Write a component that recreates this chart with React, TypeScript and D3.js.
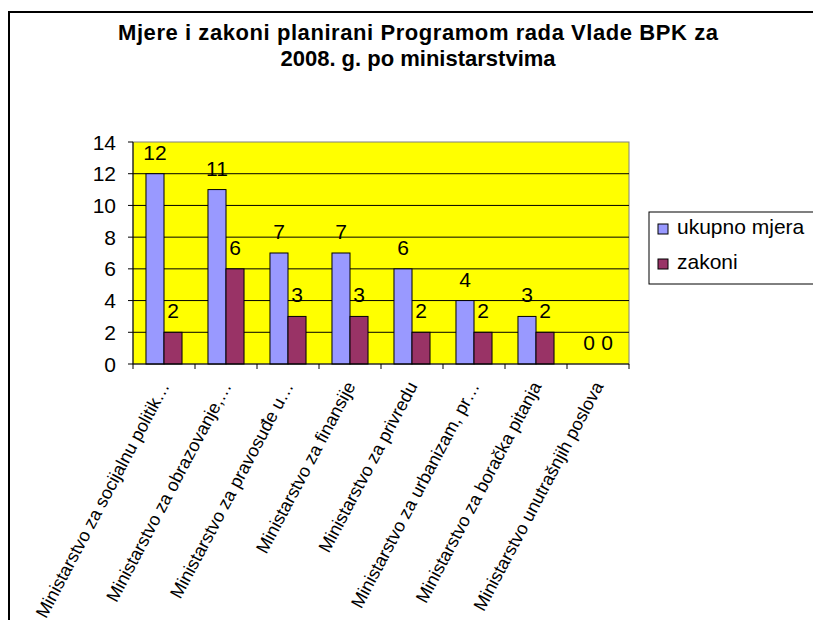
import React from "react";
import * as d3 from "d3";

const categories = [
  "Ministarstvo za socijalnu politik…",
  "Ministarstvo za obrazovanje,…",
  "Ministarstvo za pravosuđe u…",
  "Ministarstvo za finansije",
  "Ministarstvo za privredu",
  "Ministarstvo za urbanizam, pr…",
  "Ministarstvo za boračka pitanja",
  "Ministarstvo unutrašnjih poslova",
];
const ukupnoMjera = [12, 11, 7, 7, 6, 4, 3, 0];
const zakoni = [2, 6, 3, 3, 2, 2, 2, 0];
const seriesNames = ["ukupno mjera", "zakoni"];
const seriesColors = ["#9999FF", "#993366"];
const yTicks = [0, 2, 4, 6, 8, 10, 12, 14];
const titleLines = [
  "Mjere i zakoni planirani Programom rada Vlade BPK za",
  "2008. g. po ministarstvima",
];

const FONT = "'Liberation Sans', Arial, sans-serif";

const App = () => {
  const left = 133;
  const right = 629;
  const top = 142;
  const bottom = 364;

  const x0 = d3.scaleBand<string>().domain(categories).range([left, right]).padding(0);
  const x1 = d3
    .scaleBand<string>()
    .domain(seriesNames)
    .range([0, x0.bandwidth()])
    .paddingInner(0)
    .paddingOuter(0.72);
  const y = d3.scaleLinear().domain([0, 14]).range([bottom, top]);

  const series = [ukupnoMjera, zakoni];

  return (
    <svg
      width={813}
      height={620}
      style={{ position: "absolute", left: 0, top: 0, background: "#fff" }}
      fontFamily={FONT}
    >
      {/* outer chart border */}
      <rect x={9} y={12} width={830} height={640} fill="none" stroke="#000" strokeWidth={2} />

      {titleLines.map((t, i) => (
        <text
          key={i}
          x={418}
          y={40 + i * 26}
          textAnchor="middle"
          fontSize={22}
          fontWeight="bold"
          textLength={i === 0 ? 600 : undefined}
          lengthAdjust="spacing"
        >
          {t}
        </text>
      ))}

      {/* plot area */}
      <rect x={left} y={top} width={right - left} height={bottom - top} fill="#FFFF00" stroke="#808080" />
      {yTicks.slice(1, -1).map((t) => (
        <line key={t} x1={left} x2={right} y1={y(t)} y2={y(t)} stroke="#000" strokeWidth={1} />
      ))}

      {/* bars */}
      {categories.map((c, i) => (
        <g key={c}>
          {seriesNames.map((s, j) => {
            const v = series[j][i];
            const bx = (x0(c) ?? 0) + (x1(s) ?? 0);
            return (
              <g key={s}>
                {v > 0 && (
                  <rect
                    x={bx}
                    y={y(v)}
                    width={x1.bandwidth()}
                    height={y(0) - y(v)}
                    fill={seriesColors[j]}
                    stroke="#000"
                    strokeWidth={1}
                  />
                )}
                <text x={bx + x1.bandwidth() / 2} y={y(v) - 14} textAnchor="middle" fontSize={21}>
                  {v}
                </text>
              </g>
            );
          })}
        </g>
      ))}

      {/* axes */}
      <line x1={left} x2={left} y1={top} y2={bottom} stroke="#000" />
      <line x1={left} x2={right} y1={bottom} y2={bottom} stroke="#000" />
      {yTicks.map((t) => (
        <g key={t}>
          <line x1={left - 5} x2={left} y1={y(t)} y2={y(t)} stroke="#000" />
          <text x={116} y={y(t) + 7.5} textAnchor="end" fontSize={21}>
            {t}
          </text>
        </g>
      ))}
      {categories.map((c) => (
        <line key={c} x1={x0(c) ?? 0} x2={x0(c) ?? 0} y1={bottom} y2={bottom + 5} stroke="#000" />
      ))}
      <line x1={right} x2={right} y1={bottom} y2={bottom + 5} stroke="#000" />

      {categories.map((c) => {
        const cx = (x0(c) ?? 0) + x0.bandwidth() / 2;
        return (
          <text
            key={c}
            transform={`translate(${cx + 6},${bottom + 22}) rotate(-62)`}
            textAnchor="end"
            fontSize={18}
          >
            {c}
          </text>
        );
      })}

      {/* legend */}
      <rect x={649} y={212} width={180} height={72} fill="#fff" stroke="#000" />
      {seriesNames.map((s, j) => (
        <g key={s}>
          <rect x={658} y={224 + j * 35} width={10} height={10} fill={seriesColors[j]} stroke="#000" />
          <text x={677} y={234 + j * 35} fontSize={21}>
            {s}
          </text>
        </g>
      ))}
    </svg>
  );
};

export default App;
